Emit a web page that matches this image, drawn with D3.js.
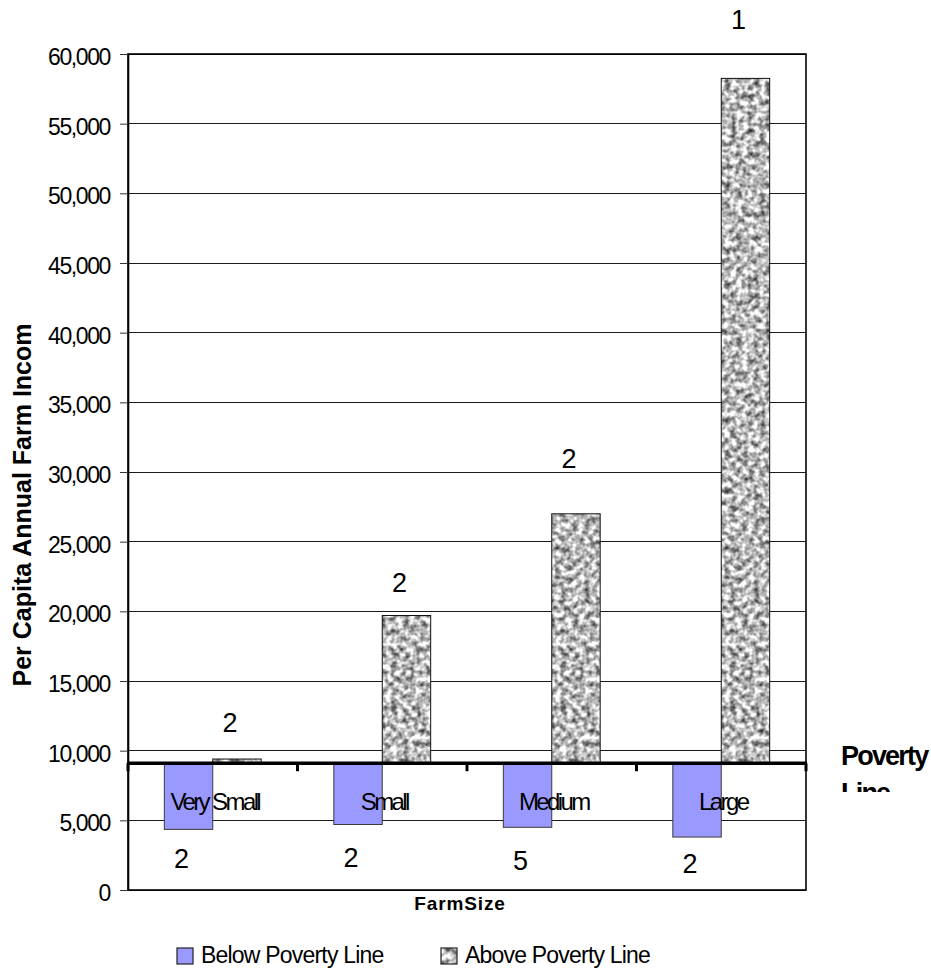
<!DOCTYPE html>
<html>
<head>
<meta charset="utf-8">
<script src="https://cdn.jsdelivr.net/npm/d3@7"></script>
<style>
  html, body { margin: 0; padding: 0; background: #ffffff; }
  svg { display: block; }
  text { font-family: "Liberation Sans", Arial, Helvetica, sans-serif; fill: #000; }
</style>
</head>
<body>
<svg id="chart" width="931" height="977"></svg>
<script>
// Farm size groups and per-capita annual farm income (split at the poverty line)
const categories = ["Very Small", "Small", "Medium", "Large"];
const seriesNames = ["Below Poverty Line", "Above Poverty Line"];
const belowValues = [4350, 4700, 4500, 3800];
const aboveValues = [9400, 19700, 27000, 58250];
const povertyLine = 9100;

// Count labels printed next to each bar
const belowCounts = ["2", "2", "5", "2"];
const aboveCounts = ["2", "2", "2", "1"];

const yTickValues = [0, 5000, 10000, 15000, 20000, 25000, 30000, 35000, 40000, 45000, 50000, 55000, 60000];

// Label placement (pixels from the bar end to the label centre)
const aboveLabelLift = [37, 33, 56, 59];
const belowLabelDrop = [29, 33, 33, 26];

const plot = { left: 128, right: 806, top: 54, bottom: 890 };
const svg = d3.select("#chart");

// Granite-like fill for the upper series
const defs = svg.append("defs");
const granite = defs.append("filter")
  .attr("id", "granite")
  .attr("x", 0).attr("y", 0).attr("width", 1).attr("height", 1)
  .attr("primitiveUnits", "userSpaceOnUse")
  .attr("color-interpolation-filters", "sRGB");
granite.append("feTurbulence")
  .attr("type", "fractalNoise")
  .attr("baseFrequency", 0.17)
  .attr("numOctaves", 2)
  .attr("seed", 11)
  .attr("result", "noise");
granite.append("feColorMatrix")
  .attr("in", "noise")
  .attr("type", "matrix")
  .attr("values", "1.45 0 0 0 0.0  1.45 0 0 0 0.0  1.45 0 0 0 0.0  0 0 0 0 1")
  .attr("result", "gray");
granite.append("feGaussianBlur")
  .attr("in", "gray")
  .attr("stdDeviation", 0.7)
  .attr("result", "soft");
granite.append("feComposite")
  .attr("in", "soft")
  .attr("in2", "SourceGraphic")
  .attr("operator", "in");

defs.append("clipPath").attr("id", "sideClip")
  .append("rect").attr("x", 820).attr("y", 700).attr("width", 111).attr("height", 92);

// Scales
const y = d3.scaleLinear().domain([0, 60000]).range([plot.bottom, plot.top]);
const x0 = d3.scaleBand().domain(categories).range([plot.left, plot.right]).paddingInner(0).paddingOuter(0);
const x1 = d3.scaleBand().domain(seriesNames).range([0, x0.bandwidth()]).paddingInner(0).paddingOuter(0.75);
const barW = x1.bandwidth();

// Horizontal gridlines
svg.append("g")
  .selectAll("line")
  .data(yTickValues)
  .join("line")
  .attr("x1", plot.left).attr("x2", plot.right)
  .attr("y1", d => y(d)).attr("y2", d => y(d))
  .attr("stroke", "#1a1a1a")
  .attr("stroke-width", 1)
  .attr("shape-rendering", "crispEdges");

// Plot frame
svg.append("rect")
  .attr("x", plot.left).attr("y", plot.top)
  .attr("width", plot.right - plot.left).attr("height", plot.bottom - plot.top)
  .attr("fill", "none")
  .attr("stroke", "#000")
  .attr("stroke-width", 1.6);

// Value axis
const yAxis = svg.append("g")
  .attr("transform", `translate(${plot.left},0)`)
  .call(d3.axisLeft(y).tickValues(yTickValues).tickFormat(d3.format(",")).tickSizeInner(8).tickSizeOuter(0).tickPadding(10));
yAxis.select(".domain").attr("stroke", "#000").attr("stroke-width", 1.6);
yAxis.selectAll(".tick line").attr("stroke", "#333").attr("stroke-width", 1);
yAxis.selectAll(".tick text")
  .attr("font-family", "'Liberation Sans', Arial, sans-serif")
  .attr("font-size", 23)
  .attr("letter-spacing", "-1.4px")
  .attr("dy", "0.46em")
  .attr("fill", "#000");

// Bars below the poverty line (hang from the crossing line)
const groups = svg.append("g")
  .selectAll("g")
  .data(categories)
  .join("g")
  .attr("transform", d => `translate(${x0(d)},0)`);

groups.append("rect")
  .attr("x", x1(seriesNames[0]))
  .attr("y", y(povertyLine))
  .attr("width", barW)
  .attr("height", (d, i) => y(belowValues[i]) - y(povertyLine))
  .attr("fill", "#9999ff")
  .attr("stroke", "#3a3a3a")
  .attr("stroke-width", 1);

// Bars above the poverty line
groups.append("rect")
  .attr("x", x1(seriesNames[1]))
  .attr("y", (d, i) => y(aboveValues[i]))
  .attr("width", barW)
  .attr("height", (d, i) => y(povertyLine) - y(aboveValues[i]))
  .attr("fill", "#999")
  .attr("filter", "url(#granite)");
groups.append("rect")
  .attr("x", x1(seriesNames[1]))
  .attr("y", (d, i) => y(aboveValues[i]))
  .attr("width", barW)
  .attr("height", (d, i) => y(povertyLine) - y(aboveValues[i]))
  .attr("fill", "none")
  .attr("stroke", "#111")
  .attr("stroke-width", 1);

// Category axis crossing at the poverty line
const xAxis = svg.append("g")
  .attr("transform", `translate(0,${y(povertyLine)})`)
  .call(d3.axisBottom(x0).tickSize(0).tickPadding(0));
xAxis.select(".domain").remove();
xAxis.selectAll(".tick text")
  .attr("y", 47)
  .attr("dy", 0)
  .attr("dx", 2)
  .attr("font-family", "'Liberation Sans', Arial, sans-serif")
  .attr("font-size", 24)
  .attr("letter-spacing", "-2.6px")
  .attr("fill", "#000");

const boundaries = categories.map(c => x0(c)).concat([plot.right]);
svg.append("g")
  .selectAll("line")
  .data(boundaries)
  .join("line")
  .attr("x1", d => d).attr("x2", d => d)
  .attr("y1", y(povertyLine)).attr("y2", y(povertyLine) + 8)
  .attr("stroke", "#000")
  .attr("stroke-width", 3);
svg.append("line")
  .attr("x1", plot.left - 1).attr("x2", plot.right + 1)
  .attr("y1", y(povertyLine)).attr("y2", y(povertyLine))
  .attr("stroke", "#000")
  .attr("stroke-width", 3.5);

// Count labels
groups.append("text")
  .attr("x", x1(seriesNames[1]) + barW / 2 - 7)
  .attr("y", (d, i) => y(aboveValues[i]) - aboveLabelLift[i])
  .attr("dy", "0.36em")
  .attr("text-anchor", "middle")
  .attr("font-size", 27)
  .text((d, i) => aboveCounts[i]);
groups.append("text")
  .attr("x", x1(seriesNames[0]) + barW / 2 - 7)
  .attr("y", (d, i) => y(belowValues[i]) + belowLabelDrop[i])
  .attr("dy", "0.36em")
  .attr("text-anchor", "middle")
  .attr("font-size", 27)
  .text((d, i) => belowCounts[i]);

// Axis titles
svg.append("text")
  .attr("transform", `translate(31,${(plot.top + plot.bottom) / 2 + 33}) rotate(-90)`)
  .attr("text-anchor", "middle")
  .attr("font-size", 25)
  .attr("font-weight", "bold")
  .text("Per Capita Annual Farm Incom");

svg.append("text")
  .attr("x", 460)
  .attr("y", 910)
  .attr("text-anchor", "middle")
  .attr("font-size", 19)
  .attr("font-weight", "bold")
  .attr("letter-spacing", "0.9px")
  .text("FarmSize");

// Side note for the crossing line (its box cuts the second line)
const side = svg.append("g").attr("clip-path", "url(#sideClip)");
side.append("text")
  .attr("x", 841).attr("y", 765)
  .attr("font-size", 27).attr("font-weight", "bold")
  .attr("letter-spacing", "-1.8px")
  .text("Poverty");
side.append("text")
  .attr("x", 841).attr("y", 802)
  .attr("font-size", 27).attr("font-weight", "bold")
  .attr("letter-spacing", "-1.8px")
  .text("Line");

// Legend
const legendX = [177, 441];
const legend = svg.append("g")
  .selectAll("g")
  .data(seriesNames)
  .join("g")
  .attr("transform", (d, i) => `translate(${legendX[i]},948)`);
legend.append("rect")
  .attr("width", 16).attr("height", 16)
  .attr("fill", (d, i) => i === 0 ? "#9999ff" : "#999")
  .attr("filter", (d, i) => i === 0 ? null : "url(#granite)");
legend.append("rect")
  .attr("width", 16).attr("height", 16)
  .attr("fill", "none")
  .attr("stroke", "#222")
  .attr("stroke-width", 1.2);
legend.append("text")
  .attr("x", 24)
  .attr("y", 15)
  .attr("font-size", 23)
  .attr("letter-spacing", "-0.8px")
  .text(d => d);
</script>
</body>
</html>
